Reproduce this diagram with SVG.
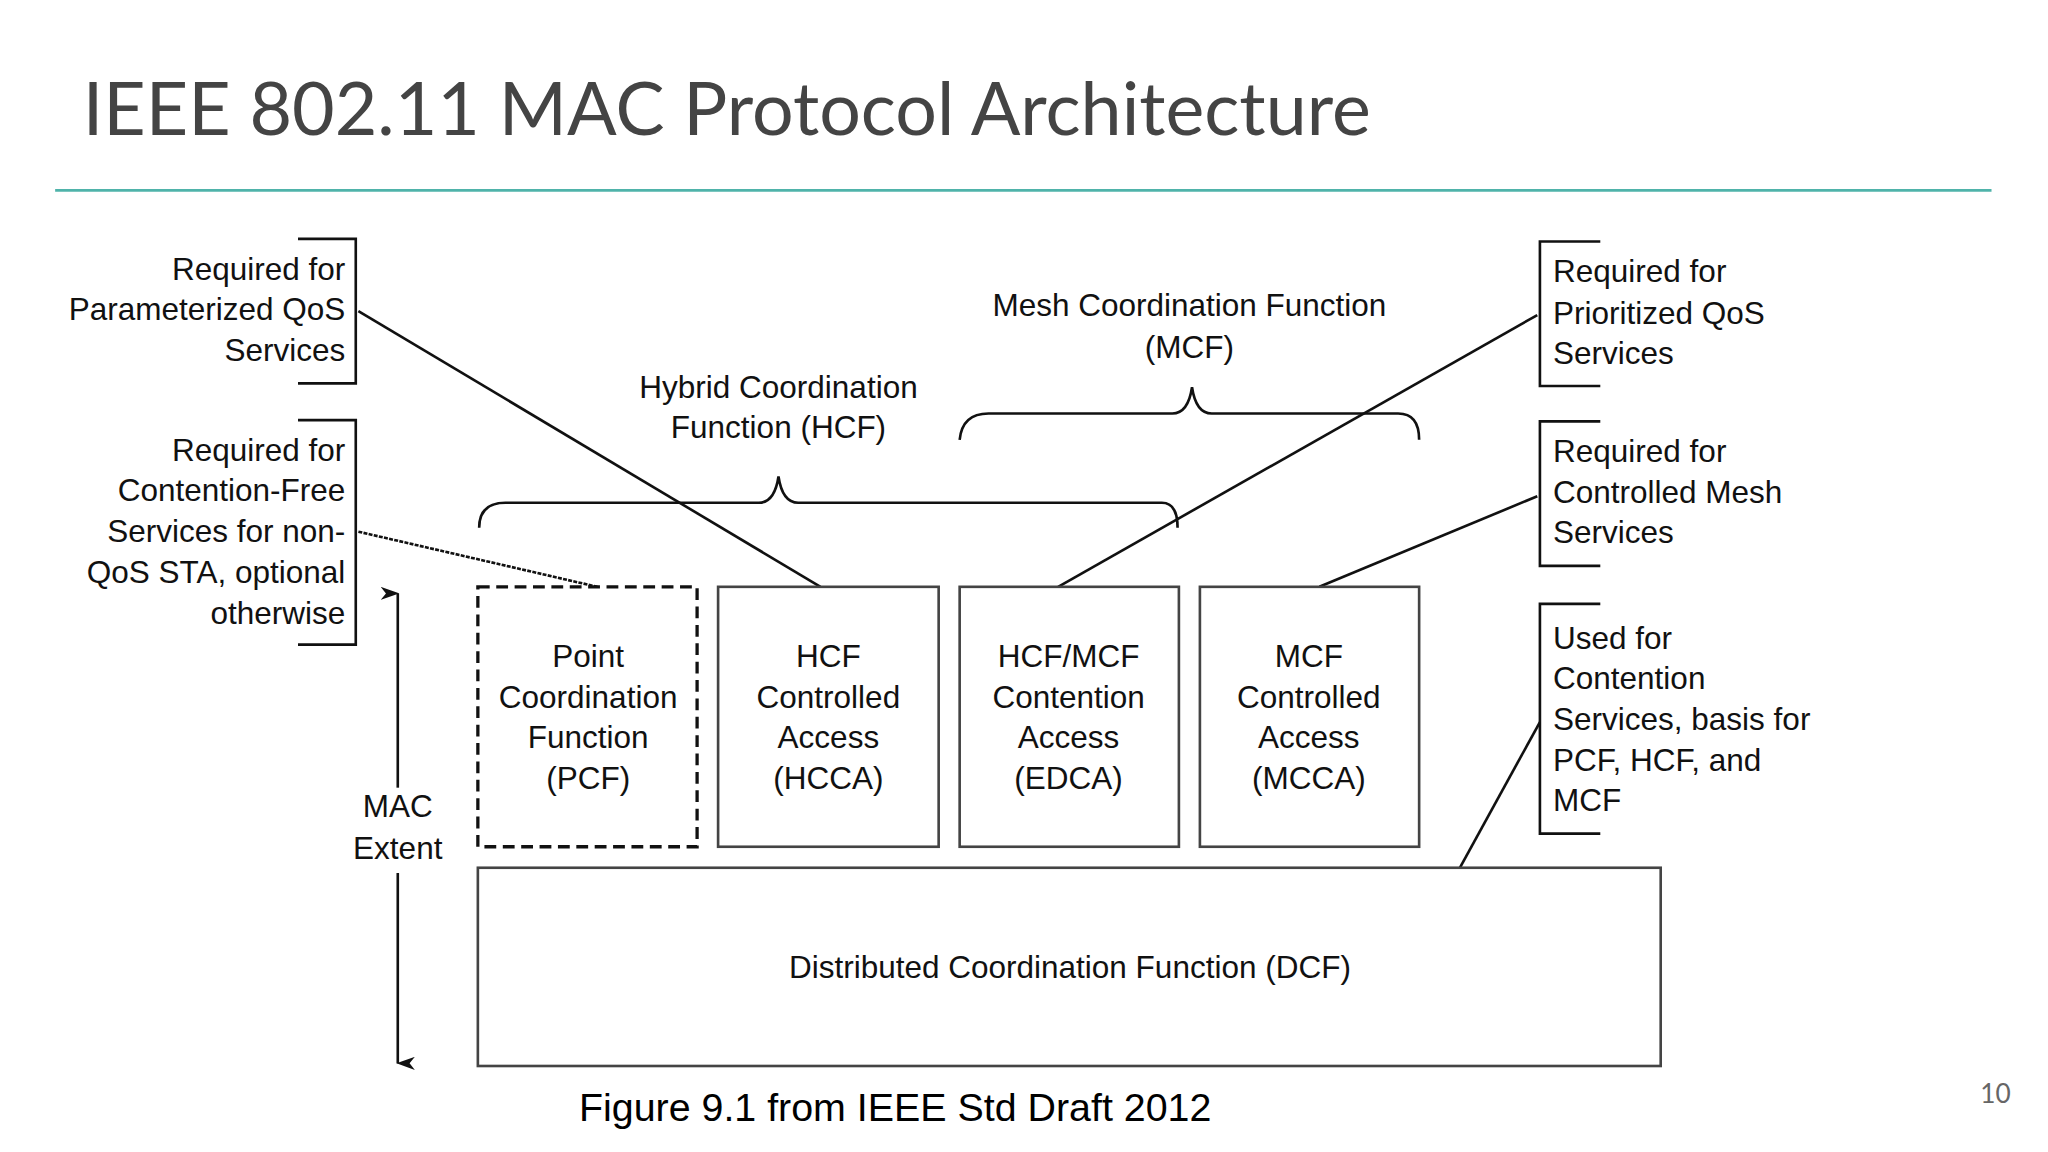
<svg xmlns="http://www.w3.org/2000/svg" width="2048" height="1152" viewBox="0 0 2048 1152">
<style>
.t{font-family:"Liberation Sans",Arial,sans-serif;font-size:24px;fill:#111}
.l{stroke:#111;stroke-width:2;fill:none}
.b{stroke:#444;stroke-width:2;fill:#fff}
.c{text-anchor:middle}
.r{text-anchor:end}
</style>
<defs><marker id="ah" markerWidth="10" markerHeight="14" refX="5" refY="13" orient="auto-start-reverse" markerUnits="userSpaceOnUse"><path d="M0,0 L5,14 L10,0 L5,4 Z" fill="#111"/></marker></defs>
<rect width="2048" height="1152" fill="#fff"/>
<g transform="scale(1.3128)">
<text x="63" y="103" style="font-family:Lato,'Open Sans',sans-serif;font-size:56px;fill:#444">IEEE 802.11 MAC Protocol Architecture</text>
<line x1="42" y1="145" x2="1517" y2="145" stroke="#4fb3aa" stroke-width="2"/>
<g id="notes">
<path class="l" d="M227,182 H271 V292 H227"/>
<text class="t r" x="263"><tspan x="263" y="213">Required for</tspan><tspan x="263" y="244">Parameterized QoS</tspan><tspan x="263" y="275">Services</tspan></text>
<path class="l" d="M227,320 H271 V491 H227"/>
<text class="t r"><tspan x="263" y="351">Required for</tspan><tspan x="263" y="382">Contention-Free</tspan><tspan x="263" y="413">Services for non-</tspan><tspan x="263" y="444">QoS STA, optional</tspan><tspan x="263" y="475">otherwise</tspan></text>
<path class="l" d="M1219,184 H1173 V294 H1219"/>
<text class="t"><tspan x="1183" y="215">Required for</tspan><tspan x="1183" y="247">Prioritized QoS</tspan><tspan x="1183" y="277">Services</tspan></text>
<path class="l" d="M1219,321 H1173 V431 H1219"/>
<text class="t"><tspan x="1183" y="352">Required for</tspan><tspan x="1183" y="383">Controlled Mesh</tspan><tspan x="1183" y="414">Services</tspan></text>
<path class="l" d="M1219,460 H1173 V635 H1219"/>
<text class="t"><tspan x="1183" y="494">Used for</tspan><tspan x="1183" y="525">Contention</tspan><tspan x="1183" y="556">Services, basis for</tspan><tspan x="1183" y="587">PCF, HCF, and</tspan><tspan x="1183" y="618">MCF</tspan></text>
</g>
<g id="braces">
<path class="l" d="M365,402 Q365,383 385,383 H578 Q590,383 593,363 Q596,383 608,383 H885 Q897,383 897,402"/>
<text class="t c"><tspan x="593" y="303">Hybrid Coordination</tspan><tspan x="593" y="334">Function (HCF)</tspan></text>
<path class="l" d="M731,335 Q733,315 753,315 H893 Q905,315 908,295 Q911,315 923,315 H1065 Q1081,315 1081,335"/>
<text class="t c"><tspan x="906" y="241">Mesh Coordination Function</tspan><tspan x="906" y="273">(MCF)</tspan></text>
</g>
<g id="connectors">
<line class="l" x1="273" y1="237" x2="625" y2="447"/>
<line class="l" x1="273" y1="405" x2="455" y2="447" stroke-dasharray="3,1"/>
<line class="l" x1="1171" y1="240" x2="806" y2="447"/>
<line class="l" x1="1171" y1="378" x2="1005" y2="447"/>
<line class="l" x1="1173" y1="550" x2="1112" y2="661"/>
<line class="l" x1="303" y1="452" x2="303" y2="600" marker-start="url(#ah)"/>
<line class="l" x1="303" y1="665" x2="303" y2="810" marker-end="url(#ah)"/>
</g>
<g id="pcf"><rect x="364" y="447" width="167" height="198" fill="#fff" stroke="#111" stroke-width="2.5" stroke-dasharray="9,5"/>
<text class="t c"><tspan x="448" y="508">Point</tspan><tspan x="448" y="539">Coordination</tspan><tspan x="448" y="570">Function</tspan><tspan x="448" y="601">(PCF)</tspan></text></g>
<g id="hcca"><rect class="b" x="547" y="447" width="168" height="198"/>
<text class="t c"><tspan x="631" y="508">HCF</tspan><tspan x="631" y="539">Controlled</tspan><tspan x="631" y="570">Access</tspan><tspan x="631" y="601">(HCCA)</tspan></text></g>
<g id="edca"><rect class="b" x="731" y="447" width="167" height="198"/>
<text class="t c"><tspan x="814" y="508">HCF/MCF</tspan><tspan x="814" y="539">Contention</tspan><tspan x="814" y="570">Access</tspan><tspan x="814" y="601">(EDCA)</tspan></text></g>
<g id="mcca"><rect class="b" x="914" y="447" width="167" height="198"/>
<text class="t c"><tspan x="997" y="508">MCF</tspan><tspan x="997" y="539">Controlled</tspan><tspan x="997" y="570">Access</tspan><tspan x="997" y="601">(MCCA)</tspan></text></g>
<g id="dcf"><rect class="b" x="364" y="661" width="901" height="151"/>
<text class="t c" x="815" y="745">Distributed Coordination Function (DCF)</text></g>
<text class="t c"><tspan x="303" y="622">MAC</tspan><tspan x="303" y="654">Extent</tspan></text>
<text x="441" y="854" style="font-family:'Liberation Sans',Arial,sans-serif;font-size:30px;fill:#000">Figure 9.1 from IEEE Std Draft 2012</text>
<text x="1520" y="840" text-anchor="middle" style="font-family:Lato,sans-serif;font-size:20px;fill:#666">10</text>
</g>
</svg>
